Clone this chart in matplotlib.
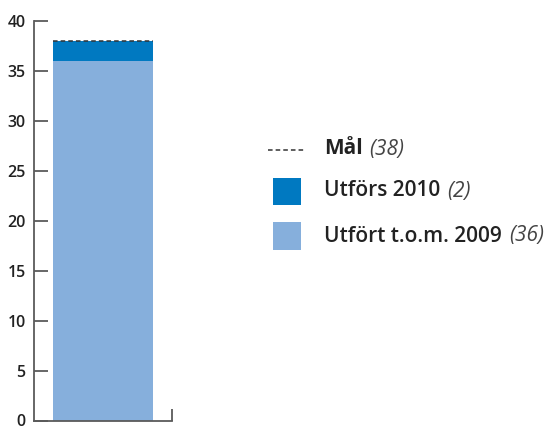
import matplotlib
matplotlib.use("Agg")
import matplotlib.pyplot as plt
from matplotlib.patches import Rectangle

# values
category = ["Totalt"]
done_2009 = [36]
done_2010 = [2]
goal = 38

legend_labels = ["Mål", "Utförs 2010", "Utfört t.o.m. 2009"]
legend_values = ["(38)", "(2)", "(36)"]

dark_blue = "#0079c1"
light_blue = "#86afdc"
axis_grey = "#5a5a5a"

plt.rcParams["font.family"] = ["Open Sans", "DejaVu Sans"]

W, H = 550, 429
fig = plt.figure(figsize=(W / 100, H / 100), dpi=100)

# axes placed in pixels: y axis at x=34, from y=21 (40) to y=420.5 (0)
ax = fig.add_axes([34 / W, (H - 420.5) / H, (172 - 34) / W, (420.5 - 21) / H])

xpos = list(range(len(category)))
ax.bar(xpos, done_2009, width=1.0, color=light_blue, linewidth=0)
ax.bar(xpos, done_2010, bottom=done_2009, width=1.0, color=dark_blue, linewidth=0)
for x in xpos:
    ax.hlines(goal, x - 0.5, x + 0.5, colors="#333333", linestyles=(0, (3, 2)),
              linewidth=1.1)

ax.set_xlim(-0.69, 0.69)
ax.set_ylim(0, 40)
ax.set_yticks(range(0, 41, 5))
ax.set_xticks([0.69])
ax.set_xticklabels([""])

for s in ["top", "right"]:
    ax.spines[s].set_visible(False)
for s in ["left", "bottom"]:
    ax.spines[s].set_color(axis_grey)
    ax.spines[s].set_linewidth(1.3)

ax.tick_params(axis="y", direction="in", length=10, width=1.3, color=axis_grey,
               pad=6, labelsize=11.5, labelcolor="#222222")
for lbl in ax.get_yticklabels():
    lbl.set_fontweight("semibold")
ax.tick_params(axis="x", direction="in", length=9, width=1.3, color=axis_grey)

# legend, drawn in pixel space of the whole figure
lg = fig.add_axes([0, 0, 1, 1])
lg.set_xlim(0, W)
lg.set_ylim(H, 0)
lg.axis("off")

lg.plot([268, 305], [150, 150], color="#333333", linestyle=(0, (3, 2)), linewidth=1.1)
lg.add_patch(Rectangle((273, 178), 28, 27, color=dark_blue, linewidth=0))
lg.add_patch(Rectangle((273, 222), 28, 28, color=light_blue, linewidth=0))

rows_y = [149, 191, 236]
weights = ["bold", "semibold", "semibold"]
renderer = fig.canvas.get_renderer()
for lab, val, y, wt in zip(legend_labels, legend_values, rows_y, weights):
    t = lg.text(324, y, lab, fontsize=15, fontweight=wt, va="center", ha="left",
                color="#222222")
    bb = t.get_window_extent(renderer=renderer)
    x_end = bb.x1 + 7
    lg.text(x_end, y, val, fontsize=15, style="italic", va="center", ha="left",
            color="#444444")

fig.savefig("out.png", dpi=100)
